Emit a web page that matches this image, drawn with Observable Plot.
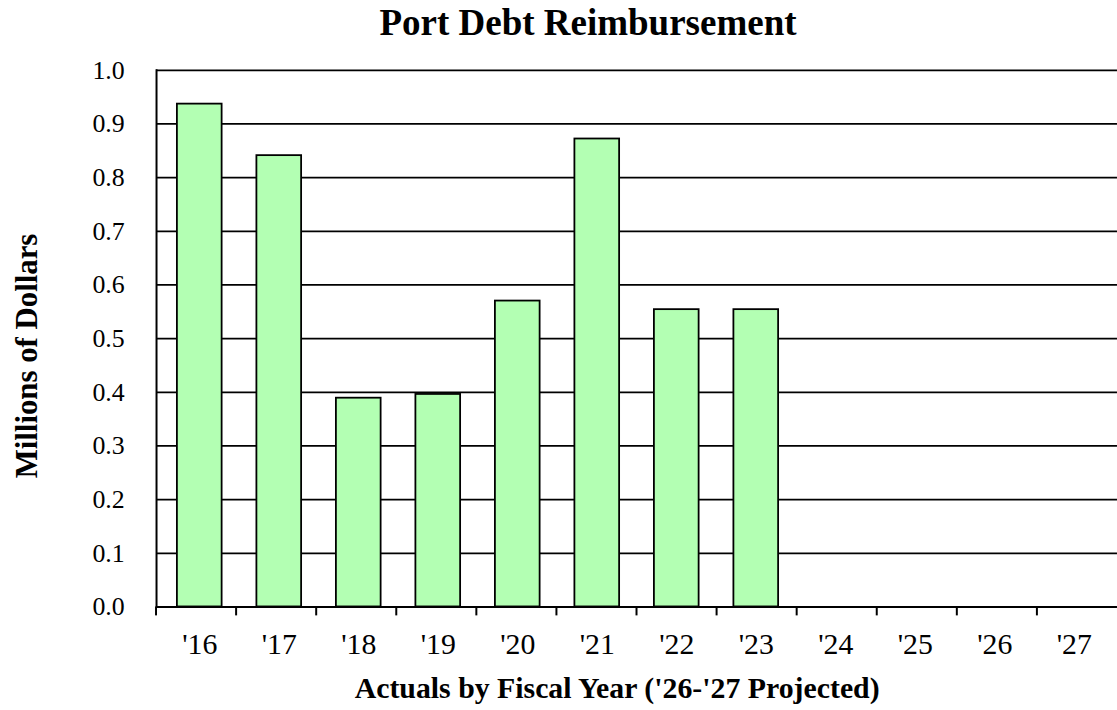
<!DOCTYPE html>
<html>
<head>
<meta charset="utf-8">
<script src="https://cdn.jsdelivr.net/npm/d3@7"></script>
<script src="https://cdn.jsdelivr.net/npm/@observablehq/plot@0.6"></script>
<style>
  html, body { margin: 0; padding: 0; background: #fff; overflow: hidden; width: 1117px; height: 710px; position: relative; }
  #title { position: absolute; left: 0; top: 1px; font-family: "Liberation Serif", "Times New Roman", serif; font-weight: bold; font-size: 37px;
           line-height: 44px; text-align: center; width: 1176px; color: #000; }
  #chart { position: absolute; left: 0; top: 40px; }
  #chart svg text { font-family: "Liberation Serif", "Times New Roman", serif; }
</style>
</head>
<body>
<div id="chart"></div>
<div id="title">Port Debt Reimbursement</div>
<script>
const years = ["'16","'17","'18","'19","'20","'21","'22","'23","'24","'25","'26","'27"];
const values = [0.937, 0.841, 0.389, 0.396, 0.570, 0.872, 0.554, 0.554, null, null, null, null];
const yTicks = [0, 0.1, 0.2, 0.3, 0.4, 0.5, 0.6, 0.7, 0.8, 0.9, 1.0];
const xTitle = "Actuals by Fiscal Year ('26-'27 Projected)";
const yTitle = "Millions of Dollars";

const data = years.map((y, i) => ({year: y, value: values[i]})).filter(d => d.value != null);
const font = "'Liberation Serif', 'Times New Roman', serif";

const chart = Plot.plot({
  width: 1124,
  height: 670,
  marginLeft: 157,
  marginRight: 0,
  marginTop: 30,
  marginBottom: 100,
  style: {fontFamily: font, fontSize: "26px", color: "#000", background: "transparent"},
  x: {type: "band", domain: years, paddingInner: 0.44, paddingOuter: 0.22, label: null},
  y: {type: "linear", domain: [0, 1], label: null},
  marks: [
    Plot.gridY(yTicks.filter(t => t > 0), {stroke: "#000", strokeOpacity: 1, strokeWidth: 1.8}),
    Plot.barY(data, {x: "year", y: "value", fill: "#b3ffb3", stroke: "#000", strokeWidth: 1.8}),
    Plot.ruleY([0], {stroke: "#000", strokeWidth: 2}),
    Plot.frame({anchor: "left", stroke: "#000", strokeWidth: 2}),
    Plot.axisY({ticks: yTicks, tickFormat: d3.format(".1f"), tickSize: 0, tickPadding: 32, fontSize: 26, label: null}),
    Plot.axisX({tickSize: 0, tickPadding: 26, fontSize: 30, label: null}),
    Plot.text([xTitle], {frameAnchor: "bottom", lineAnchor: "middle", dy: 82, dx: -20, fontWeight: "bold", fontSize: 30, text: d => d}),
  ]
});
document.getElementById("chart").appendChild(chart);

// tick marks below the axis at band boundaries (from the plot's own scales) and the y-axis title
const xs = chart.scale("x");
const ys = chart.scale("y");
const xScale = d3.scaleBand(xs.domain, xs.range).paddingInner(xs.paddingInner).paddingOuter(xs.paddingOuter).align(xs.align);
const step = xScale.step();
const y0 = ys.apply(0);
const svg = d3.select(chart);
svg.append("g").selectAll("line").data(years).join("line")
  .attr("x1", d => xScale(d) + xScale.bandwidth() / 2 - step / 2)
  .attr("x2", d => xScale(d) + xScale.bandwidth() / 2 - step / 2)
  .attr("y1", y0).attr("y2", y0 + 9)
  .attr("stroke", "#000").attr("stroke-width", 2);
svg.append("text")
  .attr("transform", "translate(30,318) rotate(-90)")
  .attr("text-anchor", "middle")
  .attr("dominant-baseline", "middle")
  .style("font-family", font)
  .attr("font-weight", "bold")
  .attr("font-size", 31)
  .text(yTitle);
</script>
</body>
</html>
